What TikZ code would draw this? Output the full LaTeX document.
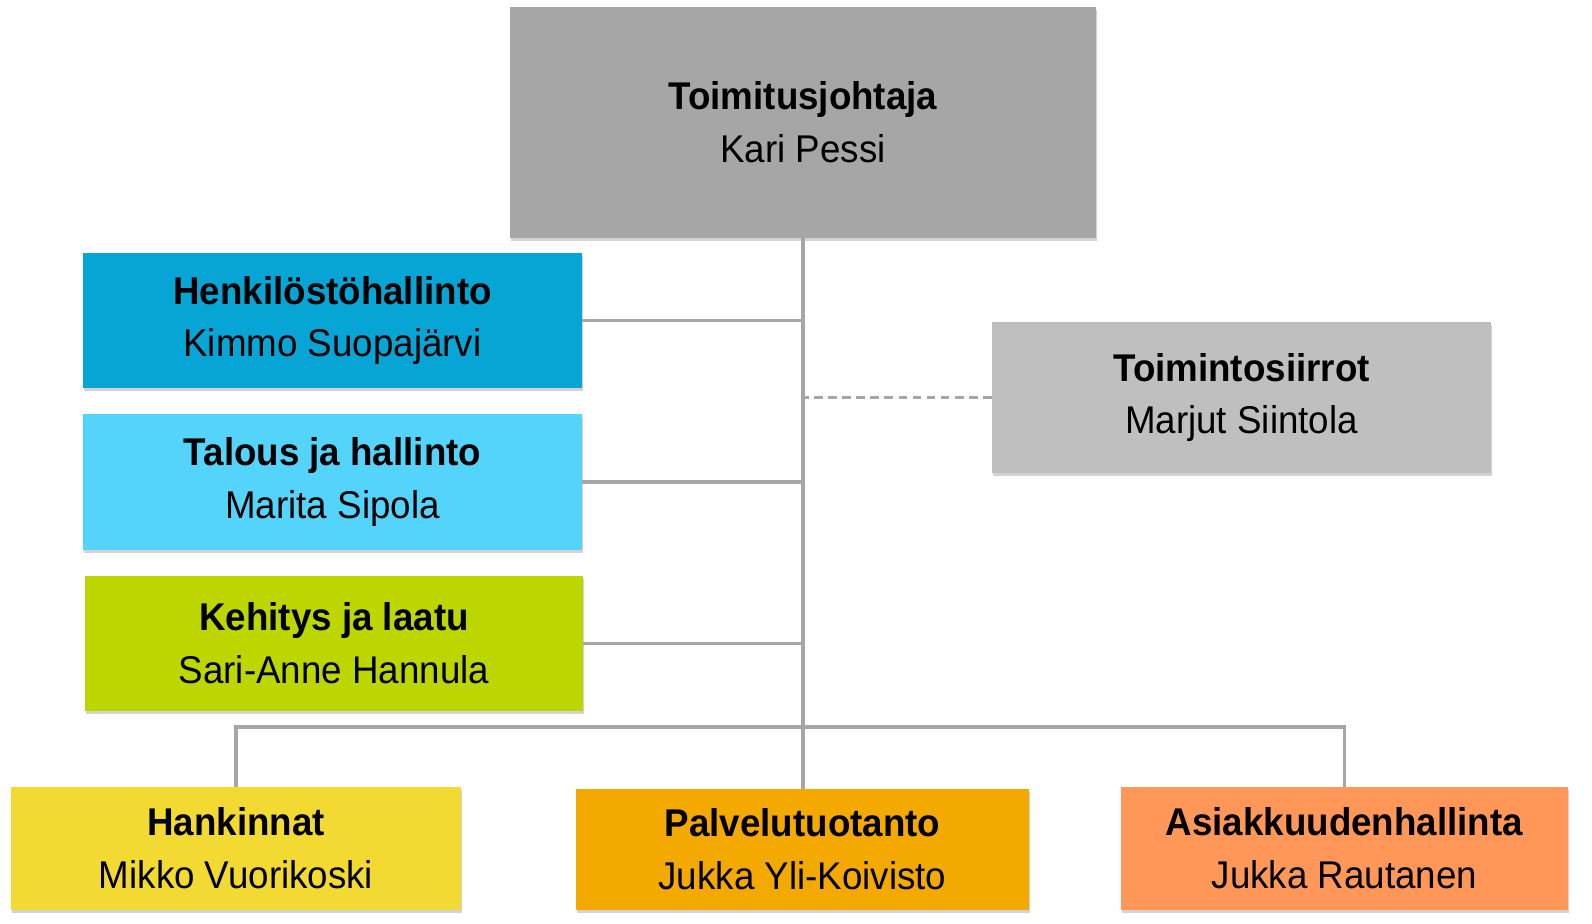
\documentclass[tikz,border=0pt]{standalone}
\usepackage{fontspec}
\setmainfont{Liberation Sans}[FakeStretch=0.95]
\usetikzlibrary{shadows}
\definecolor{ceogray}{HTML}{A6A6A6}
\definecolor{sidegray}{HTML}{BFBFBF}
\definecolor{linegray}{HTML}{A6A6A6}
\definecolor{hrblue}{HTML}{07A5D5}
\definecolor{finblue}{HTML}{55D4FB}
\definecolor{devgreen}{HTML}{BED600}
\definecolor{procyellow}{HTML}{F2DA33}
\definecolor{prodorange}{HTML}{F4A900}
\definecolor{custorange}{HTML}{FF9759}
\tikzset{
  unit/.style={inner sep=0pt, align=center, text=black,
    font=\fontsize{22}{30}\selectfont,
    drop shadow={shadow xshift=0.6pt, shadow yshift=-1.6pt, opacity=0.35}},
  orgline/.style={draw=linegray, line width=2pt}
}
\begin{document}
\begin{tikzpicture}
  \useasboundingbox (0,0) rectangle (31.84,-18.48);
  \draw
    (16.06,-2.45) node[unit, fill=ceogray, minimum width=11.72cm, minimum height=4.62cm] (ceo)
      {\textbf{Toimitusjohtaja}\\Kari Pessi}
    (6.65,-6.41) node[unit, fill=hrblue, minimum width=9.98cm, minimum height=2.70cm] (hr)
      {\textbf{Henkilöstöhallinto}\\Kimmo Suopajärvi}
    (6.65,-9.64) node[unit, fill=finblue, minimum width=9.98cm, minimum height=2.72cm] (fin)
      {\textbf{Talous ja hallinto}\\Marita Sipola}
    (6.68,-12.87) node[unit, fill=devgreen, minimum width=9.96cm, minimum height=2.70cm] (dev)
      {\textbf{Kehitys ja laatu}\\Sari-Anne Hannula}
    (24.83,-7.95) node[unit, fill=sidegray, minimum width=9.98cm, minimum height=3.02cm] (trans)
      {\textbf{Toimintosiirrot}\\Marjut Siintola}
    (4.72,-16.97) node[unit, fill=procyellow, minimum width=9.00cm, minimum height=2.46cm] (proc)
      {\textbf{Hankinnat}\\Mikko Vuorikoski}
    (16.05,-16.99) node[unit, fill=prodorange, minimum width=9.06cm, minimum height=2.42cm] (prod)
      {\textbf{Palvelutuotanto}\\Jukka Yli-Koivisto}
    (26.89,-16.97) node[unit, fill=custorange, minimum width=8.94cm, minimum height=2.46cm] (cust)
      {\textbf{Asiakkuudenhallinta}\\Jukka Rautanen};
  \coordinate (bus) at (16.06,-14.54);
  \begin{scope}[orgline]
    \draw (ceo.south) to (ceo.south |- prod.north);
    \draw (hr.east) to (hr.east -| ceo.south);
    \draw (fin.east) to (fin.east -| ceo.south);
    \draw (dev.east) to (dev.east -| ceo.south);
    \draw (proc.north) |- (bus) -| (cust.north);
    \draw[dash pattern=on 5pt off 3pt] (trans.west) to (trans.west -| ceo.south);
  \end{scope}
\end{tikzpicture}
\end{document}
